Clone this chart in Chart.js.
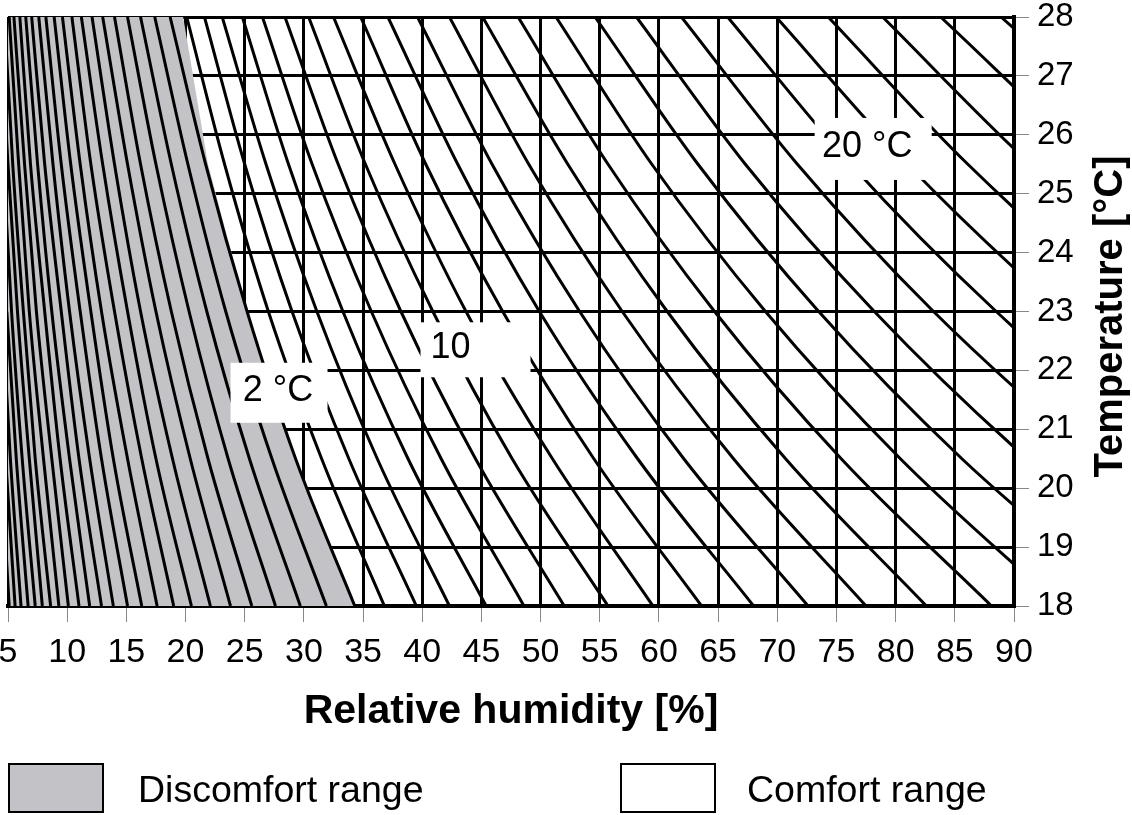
<!DOCTYPE html>
<html>
<head>
<meta charset="utf-8">
<title>Comfort range</title>
<script src="https://cdn.jsdelivr.net/npm/chart.js@4.4.1/dist/chart.umd.min.js"></script>
<style>
  html, body { margin: 0; padding: 0; background: #fff; }
  #wrap { width: 1132px; height: 815px; position: relative; }
</style>
</head>
<body>
<div id="wrap"><canvas id="comfort-chart"></canvas></div>
<script>
"use strict";

var dewPoints = [-22, -21, -20, -19, -18, -17, -16, -15, -14, -13, -12, -11, -10, -9, -8, -7, -6, -5, -4, -3, -2, -1,
                 0, 1, 2, 3, 4, 5, 6, 7, 8, 9, 10, 11, 12, 13, 14, 15, 16, 17, 18, 19, 20, 21, 22, 23, 24, 25, 26];
var tempLevels = [28, 25.5, 23, 20.5, 18];

var rhAt28 = [2.8, 3.1, 3.3, 3.6, 4.0, 4.3, 4.7, 5.1, 5.5, 6.0, 6.5, 7.0, 7.6, 8.2, 8.9, 9.6, 10.4, 11.2, 12.1, 13.0, 14.0, 15.1,
              16.2, 17.4, 18.7, 20.1, 21.6, 23.1, 24.8, 26.5, 28.4, 30.4, 32.5, 34.8, 37.1, 39.6, 42.3, 45.1, 48.1, 51.3, 54.6,
              58.1, 61.9, 65.8, 69.9, 74.3, 78.9, 83.8, 88.9];
var rhAt25_5 = [3.3, 3.5, 3.9, 4.2, 4.6, 5.0, 5.4, 5.9, 6.4, 6.9, 7.5, 8.1, 8.8, 9.5, 10.3, 11.1, 12.0, 13.0, 14.0, 15.1, 16.2, 17.5,
                18.8, 20.2, 21.7, 23.3, 25.0, 26.8, 28.7, 30.7, 32.9, 35.2, 37.7, 40.3, 43.0, 45.9, 49.0, 52.3, 55.7, 59.4, 63.3,
                67.3, 71.7, 76.2, 81.0, 86.1, 91.4, 97.1, 103.0];
var rhAt23 = [3.8, 4.1, 4.5, 4.9, 5.3, 5.8, 6.3, 6.8, 7.4, 8.1, 8.7, 9.5, 10.2, 11.1, 12.0, 12.9, 14.0, 15.1, 16.2, 17.5, 18.8, 20.3,
              21.8, 23.4, 25.2, 27.0, 29.0, 31.1, 33.3, 35.7, 38.2, 40.9, 43.7, 46.8, 49.9, 53.3, 56.9, 60.7, 64.7, 69.0, 73.5,
              78.2, 83.2, 88.5, 94.1, 100.0, 106.2, 112.7, 119.6];
var rhAt20_5 = [4.4, 4.8, 5.2, 5.7, 6.2, 6.8, 7.3, 8.0, 8.7, 9.4, 10.2, 11.0, 11.9, 12.9, 13.9, 15.1, 16.3, 17.5, 18.9, 20.4, 21.9, 23.6,
                25.4, 27.3, 29.3, 31.5, 33.8, 36.2, 38.8, 41.6, 44.5, 47.6, 51.0, 54.5, 58.2, 62.1, 66.3, 70.7, 75.4, 80.4, 85.6,
                91.1, 97.0, 103.1, 109.6, 116.5, 123.7, 131.3, 139.4];
var rhAt18 = [5.1, 5.6, 6.1, 6.7, 7.3, 7.9, 8.6, 9.3, 10.1, 11.0, 11.9, 12.9, 13.9, 15.1, 16.3, 17.6, 19.0, 20.5, 22.1, 23.8, 25.6, 27.6,
              29.7, 31.9, 34.3, 36.8, 39.5, 42.3, 45.4, 48.6, 52.0, 55.7, 59.5, 63.6, 68.0, 72.6, 77.5, 82.6, 88.1, 93.9, 100.0,
              106.5, 113.3, 120.5, 128.1, 136.1, 144.6, 153.5, 162.9];

// right edge of the grey discomfort area, at the same temperature levels
var grayEdgeRH = [19.8, 21.9, 25.2, 29.3, 34.3];

var xTicksMin = 5, xTicksMax = 90, xStep = 5;
var yTicksMin = 18, yTicksMax = 28, yStep = 1;

var noteTexts = ["2 °C", "10", "20 °C"];
var noteRH = [27.9, 44.5, 78.1];
var noteTemp = [21.62, 22.35, 25.76];

var legendTexts = ["Discomfort range", "Comfort range"];

var FONT = "'Liberation Sans', Arial, Helvetica, sans-serif";
var GRAY = "#c3c3c7";

function buildDatasets()
{
  var sets = [];
  var levels = [rhAt28, rhAt25_5, rhAt23, rhAt20_5, rhAt18];
  for (var i = 0; i < dewPoints.length; i++) {
    var pts = [];
    for (var k = 0; k < tempLevels.length; k++) {
      pts.push({x: levels[k][i], y: tempLevels[k]});
    }
    sets.push({
      label: dewPoints[i] + " °C",
      data: pts,
      showLine: true,
      borderColor: "#000",
      borderWidth: 3,
      cubicInterpolationMode: "monotone",
      pointRadius: 0,
      fill: false,
      order: 0
    });
  }
  var grayPts = [{x: xTicksMin, y: tempLevels[0]}];
  for (var j = 0; j < grayEdgeRH.length; j++) {
    grayPts.push({x: grayEdgeRH[j], y: tempLevels[j]});
  }
  sets.push({
    label: legendTexts[0],
    data: grayPts,
    showLine: true,
    borderColor: "rgba(0,0,0,0)",
    borderWidth: 0,
    pointRadius: 0,
    backgroundColor: GRAY,
    fill: "start",
    order: 10
  });
  return sets;
}

var overlayPlugin = {
  id: "overlay",
  afterDraw: function(chart) {
    var c = chart.ctx;
    var xs = chart.scales.x, ys = chart.scales.y;
    var boxW = [97, 110, 117], boxH = [60, 55, 62], textDx = [-1, -25, -6];

    c.save();
    c.font = "36px " + FONT;
    c.textBaseline = "middle";
    c.textAlign = "center";
    for (var i = 0; i < noteTexts.length; i++) {
      var px = xs.getPixelForValue(noteRH[i]);
      var py = ys.getPixelForValue(noteTemp[i]);
      c.fillStyle = "#fff";
      c.fillRect(px - boxW[i] / 2, py - boxH[i] / 2, boxW[i], boxH[i]);
      c.fillStyle = "#000";
      c.fillText(noteTexts[i], px + textDx[i], py - 2);
    }

    // legend
    c.lineWidth = 2;
    c.strokeStyle = "#000";
    c.fillStyle = GRAY;
    c.fillRect(9, 764, 94, 48);
    c.strokeRect(9, 764, 94, 48);
    c.fillStyle = "#fff";
    c.fillRect(621, 764, 94, 48);
    c.strokeRect(621, 764, 94, 48);
    c.fillStyle = "#000";
    c.textAlign = "left";
    c.font = "37.5px " + FONT;
    c.fillText(legendTexts[0], 138, 792);
    c.fillText(legendTexts[1], 747, 792);

    // y title reads bottom to top
    c.translate(1111, (ys.top + ys.bottom) / 2 + 5);
    c.rotate(-Math.PI / 2);
    c.textAlign = "center";
    c.font = "bold 40px " + FONT;
    c.fillText("Temperature [°C]", 0, 0);
    c.restore();
  }
};

var ctx = document.getElementById("comfort-chart").getContext("2d");
var chart = new Chart(ctx, {
  type: "scatter",
  data: { datasets: buildDatasets() },
  plugins: [overlayPlugin],
  options: {
    responsive: true,
    maintainAspectRatio: false,
    animation: false,
    layout: { padding: { left: 8, top: 17, right: 0, bottom: 70 } },
    plugins: {
      legend: { display: false },
      tooltip: { enabled: false }
    },
    scales: {
      x: {
        type: "linear",
        position: "bottom",
        min: xTicksMin,
        max: xTicksMax,
        z: 1,
        ticks: {
          stepSize: xStep,
          autoSkip: false,
          maxRotation: 0,
          color: "#000",
          padding: 10,
          font: { family: FONT, size: 34 }
        },
        grid: { color: "#000", lineWidth: 3, tickLength: 16, tickColor: "#888", tickWidth: 1 },
        border: { display: true, color: "#000", width: 4 },
        title: {
          display: true,
          text: "Relative humidity [%]",
          color: "#000",
          font: { family: FONT, size: 41, weight: "bold" },
          padding: { top: 0, bottom: 9 }
        },
        afterFit: function(scale) {
          scale.height = 139;
          scale.paddingLeft = 0;
          scale.paddingRight = 0;
        }
      },
      y: {
        type: "linear",
        position: "right",
        min: yTicksMin,
        max: yTicksMax,
        z: 1,
        ticks: {
          stepSize: yStep,
          color: "#000",
          padding: 8,
          font: { family: FONT, size: 33, lineHeight: 1 }
        },
        grid: { color: "#000", lineWidth: 3, tickLength: 15, tickColor: "#888", tickWidth: 1 },
        border: { display: true, color: "#000", width: 4 },
        afterFit: function(scale) {
          scale.width = 118;
          scale.paddingTop = 0;
          scale.paddingBottom = 0;
        }
      }
    }
  }
});
</script>
</body>
</html>
